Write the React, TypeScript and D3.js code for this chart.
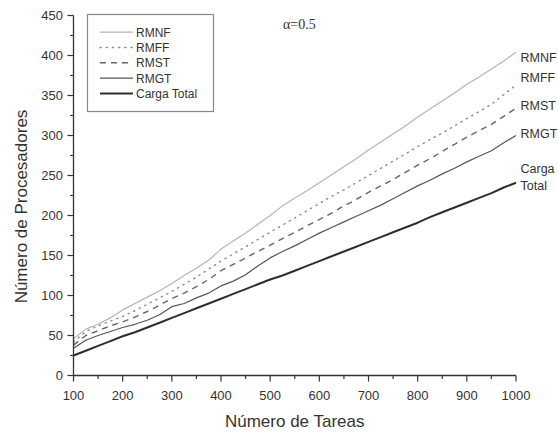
import React from "react";
import * as d3 from "d3";

// Número de tareas (eje X)
const tareas = [
  100, 125, 150, 175, 200, 225, 250, 275, 300, 325, 350, 375, 400, 425, 450, 475, 500, 525, 550,
  575, 600, 625, 650, 675, 700, 725, 750, 775, 800, 825, 850, 875, 900, 925, 950, 975, 1000,
];

const rmnf = [
  46, 58, 64, 72, 82, 90, 98, 106, 115, 125, 134, 144, 158, 168, 178, 189, 200, 212, 222,
  231, 241, 251, 261, 271, 282, 292, 302, 312, 323, 333, 343, 353, 364, 373, 383, 393, 404,
];
const rmff = [
  42, 55, 62, 68, 74, 81, 89, 97, 105, 114, 123, 133, 143, 152, 161, 170, 179, 188, 197,
  206, 215, 224, 232, 241, 250, 259, 268, 277, 286, 295, 303, 312, 321, 330, 339, 351, 363,
];
const rmst = [
  38, 50, 56, 62, 67, 73, 80, 88, 96, 103, 111, 120, 131, 139, 147, 155, 163, 171, 179,
  187, 195, 203, 212, 220, 229, 237, 245, 254, 263, 271, 280, 289, 298, 306, 314, 324, 334,
];
const rmgt = [
  34, 44, 50, 55, 60, 64, 69, 76, 86, 90, 97, 103, 112, 118, 126, 137, 147, 155, 162,
  170, 178, 185, 192, 199, 206, 213, 221, 229, 237, 244, 252, 259, 267, 274, 281, 291, 300,
];
const cargaTotal = [
  25, 31, 37, 43, 49, 54, 60, 66, 72, 78, 84, 90, 96, 102, 108, 114, 120, 125, 131,
  137, 143, 149, 155, 161, 167, 173, 179, 185, 191, 198, 204, 210, 216, 222, 228, 235, 241,
];

const xMajor = [100, 200, 300, 400, 500, 600, 700, 800, 900, 1000];
const xMinor = [150, 250, 350, 450, 550, 650, 750, 850, 950];
const yMajor = [0, 50, 100, 150, 200, 250, 300, 350, 400, 450];
const yMinor = [25, 75, 125, 175, 225, 275, 325, 375, 425];

const seriesNames = ["RMNF", "RMFF", "RMST", "RMGT", "Carga Total"];
const seriesValues = [rmnf, rmff, rmst, rmgt, cargaTotal];

type Style = { color: string; width: number; dash?: string; cap?: string };
const styles: Style[] = [
  { color: "#b4b4b4", width: 1.2 },
  { color: "#8a8a8a", width: 1.4, dash: "1.2 5", cap: "round" },
  { color: "#666", width: 1.4, dash: "6 5" },
  { color: "#555", width: 1.2 },
  { color: "#2e2e2e", width: 2 },
];

// Etiquetas al final de cada curva
const endLabels: { lines: string[]; y: number }[] = [
  { lines: ["RMNF"], y: 62 },
  { lines: ["RMFF"], y: 82 },
  { lines: ["RMST"], y: 110 },
  { lines: ["RMGT"], y: 138 },
  { lines: ["Carga", "Total"], y: 173 },
];

const W = 558;
const H = 432;
const left = 73.5;
const right = 516;
const top = 15.5;
const bottom = 375.5;

export default function App() {
  const x = d3.scaleLinear().domain([100, 1000]).range([left, right]);
  const y = d3.scaleLinear().domain([0, 450]).range([bottom, top]);
  const font = "Liberation Sans, Arial, sans-serif";

  const lineGen = (vals: number[]) =>
    d3
      .line<number>()
      .x((_, i) => x(tareas[i]))
      .y((v) => y(v))(vals) || "";

  return (
    <svg
      width={W}
      height={H}
      style={{ position: "absolute", left: 0, top: 0, background: "#fff" }}
      fontFamily={font}
    >
      <rect width={W} height={H} fill="#fff" />

      {/* series */}
      {seriesValues.map((vals, i) => (
        <path
          key={seriesNames[i]}
          d={lineGen(vals)}
          fill="none"
          stroke={styles[i].color}
          strokeWidth={styles[i].width}
          strokeDasharray={styles[i].dash}
          strokeLinecap={(styles[i].cap as any) || "butt"}
          strokeLinejoin="round"
        />
      ))}

      {/* axes */}
      <line x1={left} x2={left} y1={top} y2={bottom} stroke="#333" strokeWidth={1.3} />
      <line x1={left} x2={right} y1={bottom} y2={bottom} stroke="#333" strokeWidth={1.3} />
      {xMajor.map((t) => (
        <g key={"xm" + t}>
          <line x1={x(t)} x2={x(t)} y1={bottom} y2={bottom + 6} stroke="#333" strokeWidth={1.2} />
          <text x={x(t)} y={400} textAnchor="middle" fontSize={13} fill="#333">
            {t}
          </text>
        </g>
      ))}
      {xMinor.map((t) => (
        <line key={"xn" + t} x1={x(t)} x2={x(t)} y1={bottom} y2={bottom + 3.5} stroke="#333" strokeWidth={1.2} />
      ))}
      {yMajor.map((t) => (
        <g key={"ym" + t}>
          <line x1={left - 6} x2={left} y1={y(t)} y2={y(t)} stroke="#333" strokeWidth={1.2} />
          <text x={63} y={y(t) + 4.6} textAnchor="end" fontSize={13} fill="#333">
            {t}
          </text>
        </g>
      ))}
      {yMinor.map((t) => (
        <line key={"yn" + t} x1={left - 3.5} x2={left} y1={y(t)} y2={y(t)} stroke="#333" strokeWidth={1.2} />
      ))}

      {/* axis titles */}
      <text x={(left + right) / 2} y={427} textAnchor="middle" fontSize={17} fill="#333">
        Número de Tareas
      </text>
      <text
        transform={`translate(27, ${(top + bottom) / 2 + 11}) rotate(-90)`}
        textAnchor="middle"
        fontSize={17}
        fill="#333"
      >
        Número de Procesadores
      </text>

      {/* legend */}
      <rect x={87.5} y={14.5} width={126} height={97} fill="#fff" stroke="#888" strokeWidth={1.2} />
      {seriesNames.map((name, i) => {
        const by = 36.7 + i * 15.3;
        return (
          <g key={"lg" + name}>
            <line
              x1={100}
              x2={133}
              y1={by - 4.5}
              y2={by - 4.5}
              stroke={styles[i].color}
              strokeWidth={styles[i].width}
              strokeDasharray={styles[i].dash}
              strokeLinecap={(styles[i].cap as any) || "butt"}
            />
            <text x={136} y={by} fontSize={12} fill="#333">
              {name}
            </text>
          </g>
        );
      })}

      {/* parameter label */}
      <text x={283} y={29} fontSize={14} fontFamily="Liberation Serif, Times New Roman, serif" fill="#333">
        α=0.5
      </text>

      {/* curve-end labels */}
      {endLabels.map((lb) =>
        lb.lines.map((s, j) => (
          <text key={s} x={520.5} y={lb.y + j * 16.5} fontSize={12.5} fill="#333">
            {s}
          </text>
        ))
      )}
    </svg>
  );
}
